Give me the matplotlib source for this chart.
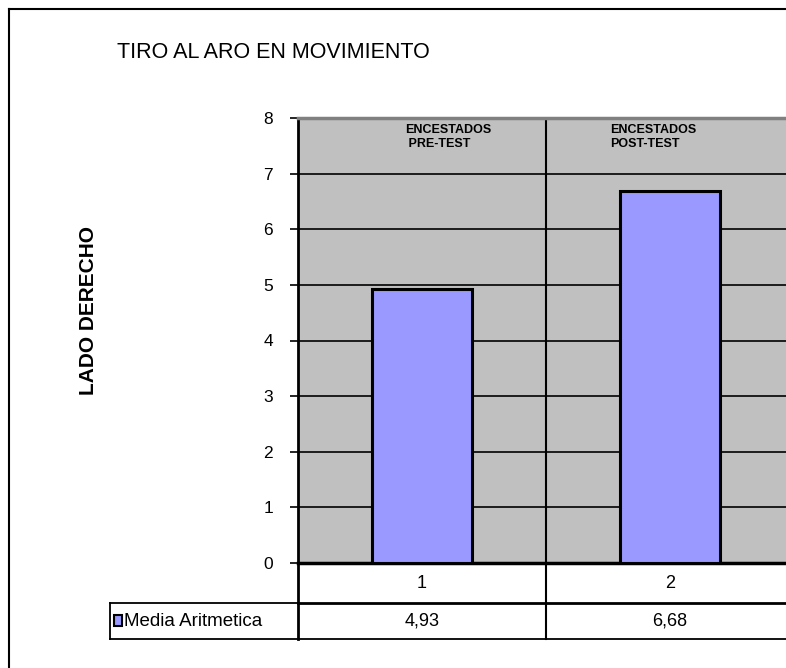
import matplotlib.pyplot as plt
from matplotlib.patches import Rectangle
from matplotlib.transforms import blended_transform_factory

plt.rcParams['font.family'] = ['Liberation Sans', 'DejaVu Sans']

# données
categorias = ["1", "2"]
media = [4.93, 6.68]
etiquetas_valores = ["4,93", "6,68"]
encabezados = ["ENCESTADOS\n PRE-TEST", "ENCESTADOS\nPOST-TEST"]
serie = "Media Aritmetica"
titulo = "TIRO AL ARO EN MOVIMIENTO"
ylabel = "LADO DERECHO"

W, H = 786, 668
fig = plt.figure(figsize=(W / 100, H / 100), dpi=100)

def fx(px):
    return px / W

def fy(py):
    return 1 - py / H

# zone du graphique (en pixels de la référence)
left, right, top, bottom = 298, 794, 118, 563
ax = fig.add_axes([fx(left), fy(bottom), fx(right - left), fy(top) - fy(bottom)])
ax.set_facecolor('#C0C0C0')

x = list(range(len(categorias)))
ax.bar(x, media, width=0.4, color='#9999FF', edgecolor='black', linewidth=2.2, zorder=3)

ax.set_xlim(-0.5, len(categorias) - 0.5)
ax.set_ylim(0, 8)
ax.set_yticks(range(0, 9))
ax.set_yticklabels([str(v) for v in range(0, 9)], fontsize=12.5)
ax.tick_params(axis='y', length=6, width=1.2, pad=12, color='black')
ax.set_xticks([])
for v in range(1, 8):
    ax.axhline(v, color='black', lw=1.2, zorder=1)
ax.axvline(0.5, color='black', lw=1.5, zorder=1)
ax.spines['top'].set_color('#808080')
ax.spines['top'].set_linewidth(2.5)
ax.spines['left'].set_linewidth(2)
ax.spines['bottom'].set_linewidth(2.5)
ax.spines['right'].set_visible(False)

# en-têtes dans le graphique
pos_enc = [-0.069, 0.758]
for i, txt in enumerate(encabezados):
    ax.text(pos_enc[i], 7.9, txt, ha='left', va='top',
            fontsize=9, fontweight='bold', linespacing=1.3, color='black')

# titre et axe y
fig.text(fx(117), fy(52), titulo, fontsize=15.5, ha='left', va='center')
fig.text(fx(88), fy(311), ylabel, fontsize=15, fontweight='bold',
         rotation=90, ha='center', va='center')

# tableau de données
tr = blended_transform_factory(ax.transData, fig.transFigure)
y0, y1, y2 = fy(563), fy(603), fy(639)
xl = -0.5 + (110 - left) / 248
xr = len(categorias) - 0.5
kw = dict(transform=tr, clip_on=False, color='black')
ax.plot([-0.5, xr], [y1, y1], lw=2, **kw)
ax.plot([xl, xr], [y2, y2], lw=1.3, **kw)
ax.plot([xl, -0.5], [y1, y1], lw=1.3, **kw)
ax.plot([xl, xl], [y1, y2], lw=1.3, **kw)
ax.plot([-0.5, -0.5], [y0, y2], lw=2, **kw)
ax.plot([0.5, 0.5], [y0, y2], lw=1.5, **kw)
for i, c in enumerate(categorias):
    ax.text(i, (y0 + y1) / 2, c, transform=tr, ha='center', va='center', fontsize=13)
    ax.text(i, (y1 + y2) / 2, etiquetas_valores[i], transform=tr,
            ha='center', va='center', fontsize=13)

fig.patches.append(Rectangle((fx(114), fy(626)), fx(8), fy(615) - fy(626),
                             transform=fig.transFigure, facecolor='#9999FF',
                             edgecolor='black', linewidth=1.5))
fig.text(fx(124), (y1 + y2) / 2, serie, fontsize=13.5, ha='left', va='center')

# cadre extérieur
fig.add_artist(plt.Line2D([fx(9), 1], [fy(9), fy(9)], color='black', lw=1.5))
fig.add_artist(plt.Line2D([fx(9), fx(9)], [fy(9), 0], color='black', lw=1.5))

fig.savefig('out.png', dpi=100)
